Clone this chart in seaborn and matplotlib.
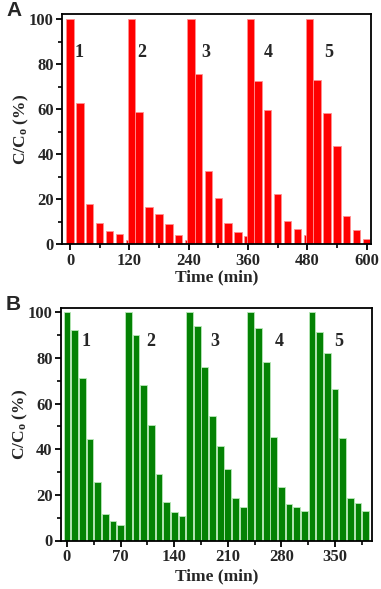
import numpy as np
import pandas as pd
import matplotlib
matplotlib.use("Agg")
import matplotlib.pyplot as plt
from matplotlib.ticker import MultipleLocator
import seaborn as sns

# ---------------- data ----------------
# Panel A: samples every 20 min (0..600), plus the 100 % starting bar of cycles 2-5
a_time = list(range(0, 601, 20))
a_value = [100, 63, 18, 9.5, 6, 4.5, 2,
           59, 16.5, 13.5, 9, 4, 2,
           75.5, 32.5, 20.5, 9.5, 5.5, 3.5,
           72.5, 59.5, 22.5, 10.5, 7, 4,
           73, 58.5, 43.5, 12.5, 6.5, 2.5]
a_start_time = [125, 245, 365, 485]
a_start_value = [100, 100, 100, 100]
a_xticks = [0, 120, 240, 360, 480, 600]

# Panel B: samples every 10 min, 8 per cycle
b_time = list(range(0, 391, 10))
b_value = [100, 92, 71, 44.5, 25.5, 11.5, 8.5, 7,
           100, 90, 68, 50.5, 29, 17, 12.5, 10.7,
           100, 94, 76, 54.5, 41.5, 31.2, 18.6, 14.8,
           100, 93, 78, 45.5, 23.6, 16, 14.5, 12.8,
           100, 91.5, 82, 66.4, 45, 18.8, 16.6, 12.8]
b_xticks = [0, 70, 140, 210, 280, 350]

cycle_labels = ["1", "2", "3", "4", "5"]
a_label_x = [18, 146, 274, 402, 523]
b_label_x = [25, 109, 193, 277, 355]

yticks = [0, 20, 40, 60, 80, 100]

# ---------------- style ----------------
sns.set_style("ticks")
plt.rcParams["font.family"] = ["Liberation Serif", "DejaVu Serif"]
plt.rcParams["font.weight"] = "bold"
plt.rcParams["axes.labelweight"] = "bold"
plt.rcParams["mathtext.fontset"] = "custom"
plt.rcParams["mathtext.rm"] = "Liberation Serif:bold"
plt.rcParams["mathtext.bf"] = "Liberation Serif:bold"
plt.rcParams["mathtext.it"] = "Liberation Serif:bold:italic"

W, H = 381, 589
fig = plt.figure(figsize=(W / 100, H / 100), dpi=100)

def frac(x0, y0, x1, y1):
    return [x0 / W, 1 - y1 / H, (x1 - x0) / W, (y1 - y0) / H]

axA = fig.add_axes(frac(62.3, 14, 371, 244.3))
axB = fig.add_axes(frac(61, 308.3, 372.3, 540.5))

dfA = pd.DataFrame({"t": a_time, "v": a_value})
dfAs = pd.DataFrame({"t": a_start_time, "v": a_start_value})
dfB = pd.DataFrame({"t": b_time, "v": b_value})

red = "#ff0000"
red_edge = "#ff9090"
green = "#048204"
green_edge = "#b8e8b8"

sns.barplot(data=dfA, x="t", y="v", native_scale=True, ax=axA, color=red,
            saturation=1, width=15 / 20, errorbar=None,
            edgecolor=red_edge, linewidth=0.6)
sns.barplot(data=dfAs, x="t", y="v", native_scale=True, ax=axA, color=red,
            saturation=1, width=15 / 120, errorbar=None,
            edgecolor=red_edge, linewidth=0.6)
sns.barplot(data=dfB, x="t", y="v", native_scale=True, ax=axB, color=green,
            saturation=1, width=0.88, errorbar=None,
            edgecolor=green_edge, linewidth=0.6)

def style(ax, xlim, xticks, xminor, ylim_top, ylab_x, xlab_y):
    ax.set_xlim(*xlim)
    ax.set_ylim(0, ylim_top)
    ax.set_xticks(xticks)
    ax.set_xticklabels([str(t) for t in xticks])
    ax.xaxis.set_minor_locator(MultipleLocator(xminor))
    ax.set_yticks(yticks)
    ax.set_yticklabels([str(t) for t in yticks])
    ax.yaxis.set_minor_locator(MultipleLocator(10))
    ax.tick_params(which="major", direction="out", length=4, width=1.3,
                   labelsize=12, pad=2, color="black")
    ax.tick_params(which="minor", direction="out", length=3, width=1.2,
                   color="black")
    for lab in ax.get_xticklabels() + ax.get_yticklabels():
        lab.set_fontweight("bold")
    for s in ax.spines.values():
        s.set_visible(True)
        s.set_linewidth(1.3)
        s.set_color("black")
    ax.set_ylabel(r"C/C$_\mathrm{o}$ (%)", fontsize=12.5, fontweight="bold")
    ax.set_xlabel("Time (min)", fontsize=12.5, fontweight="bold")
    ax.yaxis.set_label_coords(ylab_x, 0.5)
    ax.xaxis.set_label_coords(0.5, xlab_y)

style(axA, (-15.6, 609), a_xticks, 60, 102.4, -0.1, -0.11)
style(axB, (-7.8, 398.6), b_xticks, 35, 101.7, -0.1, -0.12)

for lab, x in zip(cycle_labels, a_label_x):
    axA.text(x, 85.5, lab, ha="center", va="center", fontsize=13,
             fontweight="bold")
for lab, x in zip(cycle_labels, b_label_x):
    axB.text(x, 87, lab, ha="center", va="center", fontsize=13,
             fontweight="bold")

fig.text(14 / W, 1 - 10.5 / H, "A", ha="center", va="center",
         fontsize=15, fontweight="bold", family=["Liberation Sans", "DejaVu Sans"])
fig.text(13.5 / W, 1 - 305 / H, "B", ha="center", va="center",
         fontsize=15, fontweight="bold", family=["Liberation Sans", "DejaVu Sans"])

fig.savefig("out.png", dpi=100)
